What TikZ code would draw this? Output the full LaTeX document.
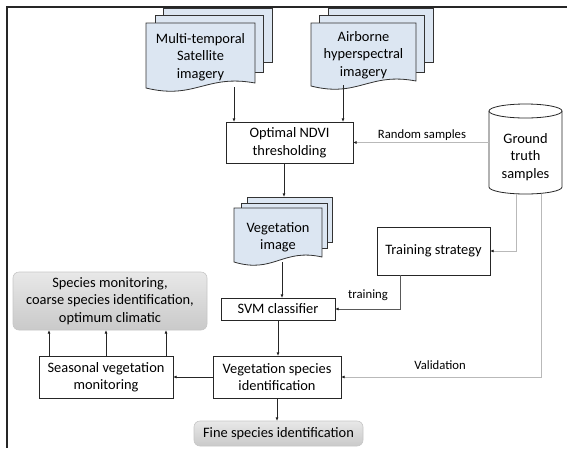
\documentclass[tikz,border=0pt]{standalone}
\usepackage{fontspec}
\setmainfont{Carlito}
\usetikzlibrary{arrows.meta,calc}
\definecolor{docblue}{HTML}{DCE6F2}
\newcommand\mainfs{\fontsize{14.4}{17.5}\selectfont}
\newcommand\lblfs{\fontsize{12.7}{15}\selectfont}
\tikzset{
 docpage/.style={draw=black!80, line width=0.8pt, fill=docblue},
 procbox/.style={draw=black!85, line width=0.8pt, fill=white, inner sep=0pt, outer sep=0pt, align=center, font=\mainfs},
 outbox/.style={rounded corners=6pt, top color=gray!18, bottom color=gray!42, draw=gray!45, line width=0.6pt, inner sep=0pt, outer sep=0pt, align=center, font=\mainfs},
 doctext/.style={align=center, font=\mainfs, inner sep=0pt},
 arr/.style={draw=black!85, line width=0.7pt, -{Latex[length=3.6pt,width=3pt]}},
 grayarr/.style={draw=gray!55, line width=0.7pt, -{Latex[length=3.6pt,width=3pt,color=black!85]}},
 darkarr/.style={draw=black!65, line width=0.7pt, -{Latex[length=3.6pt,width=3pt,color=black!85]}},
 lbl/.style={font=\lblfs, inner sep=0pt},
 hidden/.style={inner sep=0pt, outer sep=0pt, align=center, font=\mainfs},
}
\newcommand\frontdoc[4]{%
 \path[docpage] (#3,#4-5) .. controls ({#1+0.55*(#3-#1)},#4-14) and ({#1+0.45*(#3-#1)},#4+12) .. (#1,#4) -- (#1,#2) -- (#3,#2) -- cycle;}
\newcommand\backpage[4]{\path[docpage] (#1,#2) rectangle (#3,#4);}
\begin{document}
\begin{tikzpicture}[x=1pt,y=-1pt]
\useasboundingbox (0,0) rectangle (567,448);
% Multi-temporal satellite imagery
\backpage{163}{8}{272}{62}
\backpage{155}{15}{263}{72}
\frontdoc{146}{23}{255}{88}
\node[doctext] (mt) at (200.5,57) {Multi-temporal\\Satellite\\imagery};
\coordinate (mtout) at (234,87);
% Airborne hyperspectral imagery
\backpage{328}{8}{433}{62}
\backpage{319}{15}{424}{72}
\frontdoc{311}{23}{416}{86}
\node[doctext] (ab) at (363.5,55) {Airborne\\hyperspectral\\imagery};
\coordinate (about) at (343,85);
% Vegetation image
\backpage{247}{197}{332}{242}
\backpage{241}{203}{327}{248}
\frontdoc{234}{208}{322}{262}
\node[doctext] (veg) at (278,237.5) {Vegetation\\image};
\coordinate (vegtop) at (284,197);
\coordinate (vegout) at (282,262);
% Ground truth cylinder
\draw[black!85, line width=0.8pt, fill=white] (489,111) -- (489,187) arc[start angle=180, end angle=360, x radius=36.5pt, y radius=7pt] -- (562,111);
\draw[black!85, line width=0.8pt, fill=white] (525.5,111) ellipse [x radius=36.5pt, y radius=7pt];
\node[hidden, minimum width=73pt, minimum height=74pt] (gt) at (525.5,157) {Ground\\truth\\samples};
% Process boxes
\node[procbox, minimum width=127pt, minimum height=41pt] (ndvi) at (289.5,142.5) {Optimal NDVI\\thresholding};
\node[procbox, minimum width=113pt, minimum height=48pt] (train) at (433.5,251) {Training strategy};
\node[procbox, minimum width=114pt, minimum height=22pt] (svm) at (278,309) {SVM classifier};
\node[procbox, minimum width=128pt, minimum height=42pt] (vsi) at (277,377) {Vegetation species\\identification};
\node[procbox, minimum width=134pt, minimum height=42pt] (seas) at (106,377) {Seasonal vegetation\\monitoring};
\node[outbox, minimum width=194pt, minimum height=58pt] (coarse) at (110,301) {Species monitoring,\\coarse species identification,\\optimum climatic};
\node[outbox, minimum width=169pt, minimum height=25pt] (fine) at (278.5,433.5) {Fine species identification};
% Connectors
\draw[arr] (mtout) -- (mtout |- ndvi.north);
\draw[arr] (about) -- (about |- ndvi.north);
\draw[grayarr] (gt.west |- ndvi.east) -- (ndvi.east);
\node[lbl] (lrand) at (422,135) {Random samples};
\draw[arr] (ndvi.south -| vegtop) -- (vegtop);
\draw[arr] (vegout) -- (vegout |- svm.north);
\draw[arr] (svm.south) -- (svm.south |- vsi.north);
\draw[arr] (vsi.west) -- (seas.east);
\draw[arr] ([xshift=-57pt]seas.north) -- ([xshift=-57pt]seas.north |- coarse.south);
\draw[arr] (seas.north) -- (seas.north |- coarse.south);
\draw[arr] ([xshift=60pt]seas.north) -- ([xshift=60pt]seas.north |- coarse.south);
\draw[arr] (vsi.south) -- (vsi.south |- fine.north);
\draw[grayarr] ([xshift=-9.5pt]gt.south) |- (train.east);
\draw[grayarr] ([xshift=15.5pt]gt.south) |- (vsi.east);
\node[lbl] (lval) at (440,365) {Validation};
\draw[darkarr] ([xshift=-33.5pt]train.south) |- (svm.east);
\node[lbl] (ltrain) at (368,295) {training};
% Frame
\draw[line width=1.8pt, black!85] (567,7) -- (7,7) -- (7,448);
\end{tikzpicture}
\end{document}
